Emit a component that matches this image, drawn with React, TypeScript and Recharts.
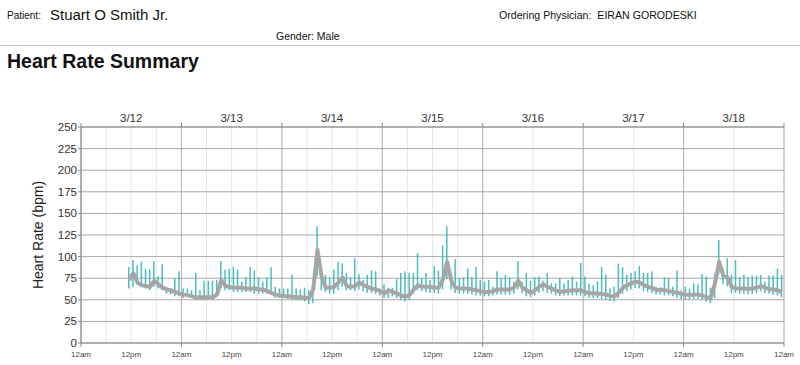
import React from "react";
import { ComposedChart, Bar, Line, XAxis, YAxis, CartesianGrid } from "recharts";

// Hourly samples starting at 3/12 11:30 (hours since 3/12 00:00)
const START_HOUR = 11.5;

const avgHR = [
  73, 81, 70, 67, 66, 65, 72, 68, 64, 62, 61, 59, 57.5, 56, 55.5, 54, 53, 53, 53, 53,
  53, 56, 73, 66, 65, 64, 64, 64, 63, 63, 63, 62, 62, 60, 58, 56, 55, 54, 54, 53.5,
  53, 53, 52.5, 52, 62, 108, 77, 64, 64, 65, 70, 76, 66,
  65, 66, 70, 67, 65, 63, 62, 60, 57.5, 61, 59, 57.5, 55, 53.5, 55.5, 62, 67, 65, 65, 65,
  64, 64, 74, 94, 72, 64, 63, 63, 63, 62, 61, 60, 59, 59, 60, 62, 62, 62, 62, 64,
  72, 64, 61, 58, 61, 65, 68, 65, 63, 61, 59, 60, 60.5, 61, 61, 61, 59, 57.5,
  57.5, 57, 57, 56, 54.5, 54, 58, 64, 67, 69, 71, 70, 67, 65, 64, 61, 62, 61, 60, 59,
  58, 57, 56, 55.5, 56, 56, 55, 53, 52, 69, 94, 78, 76, 65, 63, 63, 63, 62.5, 63, 64,
  66, 64, 62.5, 62, 61, 59,
];

const minHR = [
  63, 65, 67, 65, 63, 61, 65, 63, 61, 57, 56, 54, 54, 52, 54, 52, 50, 50, 50, 50,
  50, 54, 63, 61, 61, 59, 59, 59, 59, 59, 57, 57, 57, 57, 57, 52, 52, 52, 51, 50,
  50, 50, 48, 45, 46, 77, 61, 59, 57, 57, 61, 65, 61,
  61, 60, 62, 60, 58, 58, 57, 55, 52, 52, 54, 52, 50, 48, 50, 57, 61, 60, 59, 58,
  58, 57, 62, 74, 62, 58, 57, 57, 57, 56, 55, 55, 54, 54, 55, 56, 56, 56, 56, 57,
  62, 58, 54, 53, 55, 58, 60, 58, 57, 55, 54, 55, 55, 55, 55, 55, 54, 52,
  52, 52, 51, 50, 49, 48, 52, 57, 60, 62, 64, 63, 60, 59, 58, 56, 56, 55, 55, 54,
  52, 51, 50, 50, 51, 51, 50, 48, 46, 52, 80, 68, 66, 58, 58, 57, 57, 56, 57, 58,
  60, 58, 57, 56, 55, 53,
];

const maxHR = [
  88, 96, 90, 94, 86, 85, 95, 77, 91, 65, 63, 75, 83, 63, 63, 61, 81, 61, 72, 72,
  72, 73, 95, 85, 86, 88, 85, 71, 76, 88, 84, 76, 71, 76, 88, 65, 63, 63, 63, 79,
  63, 62, 64, 61, 65, 135, 85, 79, 76, 85, 94, 92, 81,
  76, 98, 80, 73, 79, 84, 83, 63, 68, 64, 64, 74, 81, 83, 81, 81, 104, 75, 81, 73,
  89, 84, 113, 135, 79, 97, 75, 76, 86, 76, 88, 73, 71, 73, 65, 83, 75, 79, 76, 71,
  95, 71, 81, 72, 76, 77, 72, 81, 69, 69, 75, 69, 73, 77, 71, 93, 77, 69,
  67, 71, 88, 79, 63, 65, 92, 88, 79, 81, 83, 89, 81, 81, 83, 65, 63, 76, 75, 65,
  84, 61, 65, 63, 69, 68, 80, 77, 64, 80, 119, 86, 98, 79, 96, 76, 79, 76, 78, 78,
  79, 71, 78, 78, 86, 79,
];

const dayLabels = ["3/12", "3/13", "3/14", "3/15", "3/16", "3/17", "3/18"];
const yTicks = [0, 25, 50, 75, 100, 125, 150, 175, 200, 225, 250];
const axisTicks = [0, 12, 24, 36, 48, 60, 72, 84, 96, 108, 120, 132, 144, 156, 168];
const sixHourTicks = [0, 6, 12, 18, 24, 30, 36, 42, 48, 54, 60, 66, 72, 78, 84, 90, 96, 102, 108, 114, 120, 126, 132, 138, 144, 150, 156, 162, 168];
const midnightTicks = [0, 24, 48, 72, 96, 120, 144, 168];

const data = avgHR.map((v, i) => ({
  t: START_HOUR + i,
  avg: v,
  range: [minHR[i], maxHR[i]],
}));

const FONT = "'Liberation Sans', Arial, Helvetica, sans-serif";

const TopTick = (props: any) => {
  const { x, y, payload } = props;
  const v = payload.value;
  if (v % 24 === 0) {
    return <line x1={x} x2={x} y1={y} y2={y - 4} stroke="#8a8a8a" strokeWidth={1} />;
  }
  const d = dayLabels[Math.floor(v / 24)];
  if (!d) return <g />;
  return (
    <text x={x} y={y - 5} textAnchor="middle" fontSize={11.5} fill="#333" fontFamily={FONT}>
      {d}
    </text>
  );
};

const BottomTick = (props: any) => {
  const { x, y, payload } = props;
  const v = payload.value;
  const mid = v % 24 === 0;
  const d = dayLabels[Math.floor(v / 24)];
  return (
    <g>
      {mid && <line x1={x} x2={x} y1={y} y2={y + 4} stroke="#8a8a8a" strokeWidth={1} />}
      <text x={x} y={y + 14} textAnchor="middle" fontSize={8} fill="#444" fontFamily={FONT}>
        {mid ? "12am" : "12pm"}
      </text>
      {!mid && d && (
        <text x={x} y={y + 27} textAnchor="middle" fontSize={8} fill="#444" fontFamily={FONT}>
          {d}
        </text>
      )}
    </g>
  );
};

export default function App() {
  return (
    <div style={{ position: "absolute", left: 0, top: 0, width: 800, height: 365, overflow: "hidden", background: "#fff", fontFamily: FONT }}>
      <div style={{ position: "absolute", left: 7, top: 10, fontSize: 10, color: "#111" }}>Patient:</div>
      <div style={{ position: "absolute", left: 50, top: 6, fontSize: 15, color: "#111" }}>Stuart O Smith Jr.</div>
      <div style={{ position: "absolute", left: 276, top: 30, fontSize: 10.5, color: "#111" }}>Gender: Male</div>
      <div style={{ position: "absolute", left: 499, top: 9, fontSize: 10.6, color: "#111" }}>Ordering Physician:&nbsp; EIRAN GORODESKI</div>
      <div style={{ position: "absolute", left: 0, top: 45, width: 800, height: 1, background: "#bdbdbd" }} />
      <div style={{ position: "absolute", left: 7, top: 50, fontSize: 19.5, fontWeight: "bold", color: "#111" }}>Heart Rate Summary</div>
      <div style={{ position: "absolute", left: 0, top: 0 }}>
        <ComposedChart width={800} height={365} data={data} margin={{ top: 97, right: 16, bottom: 0, left: 0 }}>
          <XAxis xAxisId="g6" dataKey="t" type="number" domain={[0, 168]} ticks={sixHourTicks} hide />
          <XAxis xAxisId="g24" dataKey="t" type="number" domain={[0, 168]} ticks={midnightTicks} hide />
          <CartesianGrid xAxisId="g6" horizontal={false} stroke="#e6e6e6" />
          <CartesianGrid xAxisId="g24" horizontal={false} stroke="#b4b4b4" />
          <CartesianGrid xAxisId="b" vertical={false} stroke="#a9a9a9" />
          <XAxis
            xAxisId="t"
            orientation="top"
            dataKey="t"
            type="number"
            domain={[0, 168]}
            ticks={axisTicks}
            interval={0}
            height={30}
            tickSize={0}
            tickMargin={0}
            tick={<TopTick />}
            stroke="#8a8a8a"
          />
          <XAxis
            xAxisId="b"
            dataKey="t"
            type="number"
            domain={[0, 168]}
            ticks={axisTicks}
            interval={0}
            height={22}
            tickSize={0}
            tickMargin={0}
            tick={<BottomTick />}
            stroke="#8a8a8a"
          />
          <YAxis
            type="number"
            domain={[0, 250]}
            ticks={yTicks}
            interval={0}
            width={81}
            tickSize={3}
            tickMargin={1}
            stroke="#8a8a8a"
            tick={{ fontSize: 11.5, fill: "#333", fontFamily: FONT }}
            label={{ value: "Heart Rate (bpm)", angle: -90, position: "insideLeft", offset: 0, dx: 38, fontSize: 14, fill: "#222", fontFamily: FONT, style: { textAnchor: "middle" } }}
          />
          <Bar xAxisId="b" dataKey="range" barSize={1.5} fill="#2bb1b4" fillOpacity={0.85} isAnimationActive={false} />
          <Line
            xAxisId="b"
            type="linear"
            dataKey="avg"
            stroke="#a6a6a6"
            strokeWidth={4}
            dot={false}
            strokeLinejoin="round"
            isAnimationActive={false}
          />
        </ComposedChart>
      </div>
    </div>
  );
}
